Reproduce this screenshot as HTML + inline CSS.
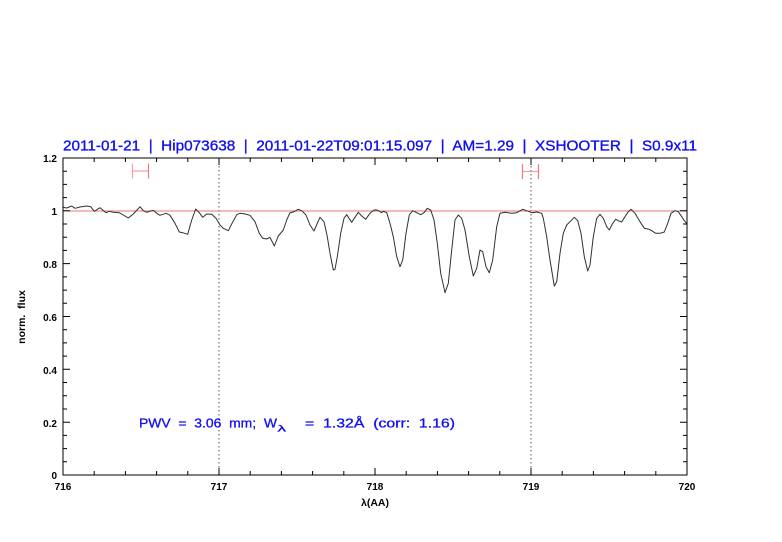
<!DOCTYPE html>
<html>
<head>
<meta charset="utf-8">
<style>
html,body{margin:0;padding:0;background:#fff;}
svg{display:block;}
svg text{white-space:pre;}
</style>
</head>
<body>
<svg width="782" height="542" viewBox="0 0 782 542" xmlns="http://www.w3.org/2000/svg" xml:space="preserve">
<rect x="0" y="0" width="782" height="542" fill="#fff"/>

<!-- title -->
<text x="63" y="150.5" font-family="Liberation Sans, sans-serif" font-size="14.5" fill="#1010f0" stroke="#1010f0" stroke-width="0.35" textLength="634" lengthAdjust="spacingAndGlyphs">2011-01-21  |  Hip073638  |  2011-01-22T09:01:15.097  |  AM=1.29  |  XSHOOTER  |  S0.9x11</text>

<!-- dotted verticals -->
<line x1="219" y1="158" x2="219" y2="475" stroke="#555" stroke-width="1" stroke-dasharray="1.5,2.5"/>
<line x1="531" y1="158" x2="531" y2="475" stroke="#555" stroke-width="1" stroke-dasharray="1.5,2.5"/>

<!-- continuum line at 1 -->
<line x1="63" y1="211" x2="687" y2="211" stroke="#e87474" stroke-width="1"/>

<!-- error bars -->
<g stroke="#f4a0a0" stroke-width="1.2" fill="none">
<line x1="132.5" y1="171" x2="148.5" y2="171"/>
<line x1="132.5" y1="163.5" x2="132.5" y2="178.5"/>
<line x1="148.5" y1="163.5" x2="148.5" y2="178.5" stroke="#f07878"/>
<line x1="522.5" y1="171.5" x2="538.5" y2="171.5"/>
<line x1="522.5" y1="164" x2="522.5" y2="179" stroke="#f07878"/>
<line x1="538.5" y1="164" x2="538.5" y2="179" stroke="#f07878"/>
</g>

<!-- spectrum -->
<polyline fill="none" stroke="#303030" stroke-width="1" stroke-linejoin="round" points="63,207.3 66.7,208 71.7,206 75,208.3 80,207 86.7,206 90.7,206.7 94.3,211.3 100,207.7 106,212.7 109.3,211.3 113.3,212.3 119.3,212.7 123.3,215 128.3,218 133.3,214 140,206.7 143.3,210.7 146.7,212.3 150.7,211 153.3,210.3 156.7,213.3 160,215.3 166,213.3 170,215.3 175,223.3 179.3,232 182.7,232.7 187.7,234.3 191.7,220 195.7,209 199.3,212.7 202.7,217.3 206.7,214 211.7,214.3 216,218.3 220,225 223.3,228.3 228.3,230.7 231.7,224 236.7,214.7 240,213.3 245,214 250,215.3 255,221.7 259.3,233.3 262.7,238.3 266.7,239 270,237.3 274.3,246 278.3,236 283.3,230 286.7,220 290,212.7 293.3,212 298.3,209.3 301.7,210.7 306,215 310,225 314,231 317.3,223.3 320,217.3 324,221.7 327.3,236.7 330,253.3 333.3,270 335,269.3 337.3,256.7 340.7,233.3 344,218.3 346.7,214.7 351.7,222.3 355,217.3 358.3,212.3 361.7,216 365.7,219.3 370,213.3 374,210 377.3,210 381.7,212.7 383.3,211.3 386.7,212.7 390,223.3 393.3,236.7 396.7,256.7 400,266.7 402.7,260 406,233.3 409.3,215 412.7,210.7 416.7,212.7 420.7,214.7 424,212.7 427.3,208.3 430.7,210 434,220 437.3,243.3 440.7,273.3 445,292.7 448.3,283.3 451.7,250 455,220 458.3,215 461.7,218.3 465,230 469.3,256.7 473.3,276 476.7,268.3 480,250 482.7,251.7 486,266.7 489.3,272.7 492.7,260 496.7,226.7 500,213.3 505,212.3 511.7,213.3 516.7,212.7 522.7,209.3 526.7,210.7 531.7,212.7 536.7,212 541.7,213.3 543.3,218.3 546.7,236.7 550,260 554.3,286 556.7,281.7 560,253.3 563.3,233.3 566.7,225 570,221.7 574.3,217.3 577.7,220.7 581,233.3 584.3,256.7 587.7,271 590,265 593.3,236.7 596.7,218.3 600,214.3 603.3,218.3 606.7,226.7 609.3,230 612.3,224 615.7,219.3 618.3,220.7 621.7,222 625,216.7 628.3,211.7 631,209.3 635,213.3 640,221.7 644.3,228.3 649,229.3 651.7,230.7 655.7,233.3 660,233.3 664.3,232 667.7,223.3 671,213.3 675,210.7 678.3,211.7 681.7,216.7 684.3,220.7 686.7,223.3"/>

<!-- frame -->
<rect x="63" y="158" width="624" height="317" fill="none" stroke="#000" stroke-width="1"/>

<!-- ticks -->
<path stroke="#000" stroke-width="1" fill="none" d="
M63 475V468 M94.2 475V471 M125.4 475V471 M156.6 475V471 M187.8 475V471 M219 475V468 M250.2 475V471 M281.4 475V471 M312.6 475V471 M343.8 475V471 M375 475V468 M406.2 475V471 M437.4 475V471 M468.6 475V471 M499.8 475V471 M531 475V468 M562.2 475V471 M593.4 475V471 M624.6 475V471 M655.8 475V471 M687 475V468
M63 158V165 M94.2 158V162 M125.4 158V162 M156.6 158V162 M187.8 158V162 M219 158V165 M250.2 158V162 M281.4 158V162 M312.6 158V162 M343.8 158V162 M375 158V165 M406.2 158V162 M437.4 158V162 M468.6 158V162 M499.8 158V162 M531 158V165 M562.2 158V162 M593.4 158V162 M624.6 158V162 M655.8 158V162 M687 158V165
M63 475H70 M63 461.8H67 M63 448.6H67 M63 435.4H67 M63 422.2H70 M63 409H67 M63 395.7H67 M63 382.5H67 M63 369.3H70 M63 356.1H67 M63 342.9H67 M63 329.7H67 M63 316.5H70 M63 303.3H67 M63 290.1H67 M63 276.9H67 M63 263.6H70 M63 250.4H67 M63 237.2H67 M63 224H67 M63 210.8H70 M63 197.6H67 M63 184.4H67 M63 171.2H67 M63 158H70
M687 475H680 M687 461.8H683 M687 448.6H683 M687 435.4H683 M687 422.2H680 M687 409H683 M687 395.7H683 M687 382.5H683 M687 369.3H680 M687 356.1H683 M687 342.9H683 M687 329.7H683 M687 316.5H680 M687 303.3H683 M687 290.1H683 M687 276.9H683 M687 263.6H680 M687 250.4H683 M687 237.2H683 M687 224H683 M687 210.8H680 M687 197.6H683 M687 184.4H683 M687 171.2H683 M687 158H680
"/>

<!-- x tick labels -->
<g font-family="Liberation Sans, sans-serif" font-size="10" font-weight="bold" fill="#000" text-anchor="middle">
<text x="63" y="490">716</text>
<text x="219" y="490">717</text>
<text x="375" y="490">718</text>
<text x="531" y="490">719</text>
<text x="687" y="490">720</text>
</g>

<!-- y tick labels -->
<g font-family="Liberation Sans, sans-serif" font-size="10" font-weight="bold" fill="#000" text-anchor="end">
<text x="57" y="479">0</text>
<text x="57" y="427">0.2</text>
<text x="57" y="374">0.4</text>
<text x="57" y="321">0.6</text>
<text x="57" y="268">0.8</text>
<text x="57" y="215">1</text>
<text x="57" y="162">1.2</text>
</g>

<!-- axis labels -->
<text x="375" y="506" font-family="Liberation Sans, sans-serif" font-size="10.5" font-weight="bold" fill="#000" text-anchor="middle">λ(AA)</text>
<text transform="translate(25,317) rotate(-90)" font-family="Liberation Sans, sans-serif" font-size="10.5" font-weight="bold" fill="#000" text-anchor="middle">norm.  flux</text>

<!-- PWV annotation -->
<g font-family="Liberation Sans, sans-serif" font-size="13" fill="#1010f0" stroke="#1010f0" stroke-width="0.3">
<text x="139" y="427.5" textLength="138" lengthAdjust="spacingAndGlyphs">PWV  =  3.06  mm;  W</text>
<text x="277.5" y="431.5" font-size="9.5" textLength="8.5" lengthAdjust="spacingAndGlyphs">λ</text>
<text x="305" y="427.5" textLength="150" lengthAdjust="spacingAndGlyphs">=  1.32Å  (corr:  1.16)</text>
</g>
</svg>
</body>
</html>
